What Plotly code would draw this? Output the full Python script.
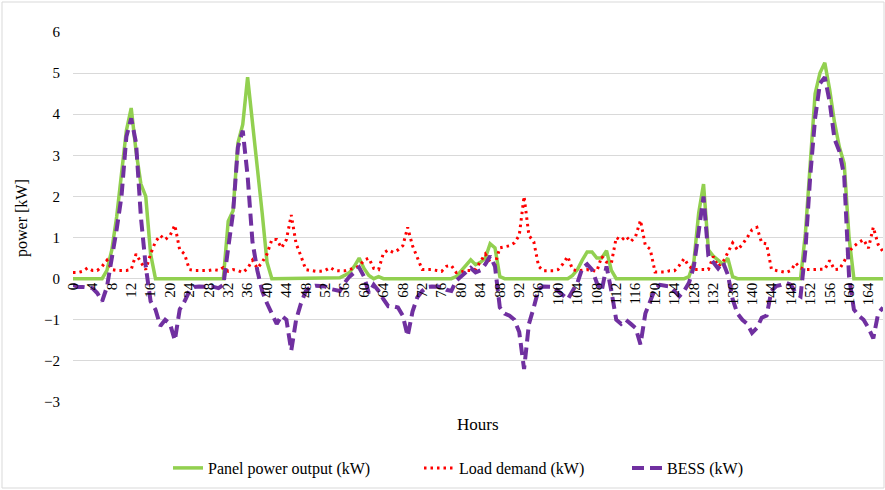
import plotly.graph_objects as go

hours = list(range(168))
tick_hours = list(range(0, 168, 4))
tick_labels = [str(h) for h in tick_hours]
y_ticks = [-3, -2, -1, 0, 1, 2, 3, 4, 5, 6]

panel = [
    0, 0, 0, 0, 0, 0, 0, 0.2, 0.7, 1.5, 2.5, 3.6, 4.15, 3.1, 2.3, 2.0, 0.6, 0, 0, 0, 0, 0, 0, 0,
    0, 0, 0, 0, 0, 0, 0, 0, 1.4, 1.65, 3.3, 3.75, 4.9, 3.7, 2.7, 1.6, 0.4, 0, 0, 0, 0, 0, 0, 0,
    0, 0, 0, 0, 0, 0, 0, 0.02, 0.08, 0.15, 0.3, 0.5, 0.25, 0.08, 0, 0.05, 0, 0, 0, 0, 0, 0, 0, 0,
    0, 0, 0, 0, 0, 0, 0, 0.05, 0.18, 0.3, 0.46, 0.34, 0.4, 0.5, 0.85, 0.75, 0.05, 0, 0, 0, 0, 0, 0, 0,
    0, 0, 0, 0, 0, 0, 0, 0.08, 0.22, 0.45, 0.65, 0.65, 0.5, 0.5, 0.68, 0.2, 0, 0, 0, 0, 0, 0, 0, 0,
    0, 0, 0, 0, 0, 0, 0, 0.05, 0.4, 1.6, 2.3, 0.7, 0.55, 0.45, 0.35, 0.5, 0.05, 0, 0, 0, 0, 0, 0, 0,
    0, 0, 0, 0, 0, 0, 0, 1.1, 2.7, 4.5, 5.0, 5.25, 4.6, 3.8, 3.2, 2.8, 1.0, 0, 0, 0, 0, 0, 0, 0,
]

load = [
    0.15, 0.15, 0.18, 0.26, 0.2, 0.2, 0.3, 0.45, 0.22, 0.2, 0.2, 0.2, 0.22, 0.6, 0.4, 0.22, 0.6, 0.9, 1.05, 0.95, 1.05, 1.3, 0.7, 0.6,
    0.22, 0.2, 0.2, 0.2, 0.2, 0.22, 0.2, 0.27, 0.18, 0.22, 0.2, 0.15, 0.25, 0.45, 0.25, 0.4, 0.6, 0.95, 0.95, 0.75, 0.95, 1.55, 0.85, 0.55,
    0.22, 0.2, 0.18, 0.18, 0.2, 0.27, 0.2, 0.19, 0.19, 0.22, 0.27, 0.3, 0.45, 0.5, 0.25, 0.22, 0.62, 0.7, 0.64, 0.7, 0.8, 1.25, 0.8, 0.5,
    0.22, 0.22, 0.22, 0.2, 0.18, 0.3, 0.32, 0.15, 0.16, 0.2, 0.2, 0.23, 0.42, 0.6, 0.4, 0.35, 0.75, 0.77, 0.8, 0.87, 1.05, 2.0, 1.05, 0.9,
    0.3, 0.19, 0.19, 0.19, 0.22, 0.36, 0.54, 0.22, 0.19, 0.2, 0.22, 0.2, 0.18, 0.54, 0.4, 0.38, 1.0, 0.93, 1.03, 0.9, 1.03, 1.42, 0.81, 0.72,
    0.16, 0.16, 0.16, 0.19, 0.19, 0.32, 0.49, 0.3, 0.22, 0.22, 0.22, 0.22, 0.54, 0.3, 0.4, 0.62, 0.87, 0.7, 0.83, 1.0, 1.19, 1.25, 0.87, 0.85,
    0.23, 0.2, 0.18, 0.15, 0.2, 0.38, 0.26, 0.22, 0.22, 0.22, 0.23, 0.23, 0.44, 0.22, 0.23, 0.42, 0.66, 0.79, 0.88, 0.95, 0.74, 1.25, 0.83, 0.66,
]

bess = [
    -0.15, -0.2, -0.2, -0.22, -0.23, -0.35, -0.55, -0.2, 0.45, 1.2, 2.0, 3.45, 3.9, 3.3, 1.5, 0.3, -0.55, -0.75, -1.15, -1.0, -1.1, -1.5, -0.75, -0.55,
    -0.3, -0.2, -0.19, -0.19, -0.2, -0.2, -0.23, -0.15, 0.75, 1.6, 3.2, 3.6, 2.5, 0.9, 0.2, -0.3, -0.6, -0.85, -1.1, -0.9, -1.0, -1.75, -1.0, -0.6,
    -0.3, -0.2, -0.17, -0.18, -0.19, -0.25, -0.27, -0.3, -0.1, 0.05, 0.15, 0.27, 0.05, -0.35, -0.15, -0.3, -0.5, -0.67, -0.67, -0.7, -0.9, -1.4, -0.8, -0.45,
    -0.3, -0.2, -0.19, -0.19, -0.2, -0.27, -0.3, -0.05, 0.05, 0.15, 0.26, 0.15, 0.2, 0.35, 0.55, 0.3, -0.7, -0.85, -0.9, -1.0, -1.3, -2.2, -1.1, -0.7,
    -0.25, -0.19, -0.19, -0.2, -0.3, -0.4, -0.5, -0.3, -0.1, 0.25, 0.35, 0.22, -0.1, -0.3, 0.3, -0.3, -1.0, -1.1, -1.0, -1.1, -1.2, -1.6, -0.85, -0.55,
    -0.25, -0.15, -0.17, -0.19, -0.3, -0.43, -0.3, -0.1, 0.3, 1.2, 2.0, 0.55, 0.4, 0.25, 0.4, 0.1, -0.5, -0.85, -1.0, -1.1, -1.32, -1.2, -0.95, -0.9,
    -0.3, -0.18, -0.15, -0.1, -0.15, -0.35, -0.43, 0.7, 2.5, 3.9, 4.75, 4.9, 4.3, 3.4, 3.1, 2.5, 0.05, -0.75, -0.9, -1.0, -1.2, -1.45, -0.85, -0.7,
]

assert len(panel) == len(load) == len(bess) == len(hours)

FONT = "Liberation Serif, Times New Roman, serif"

fig = go.Figure()
fig.add_trace(go.Scatter(x=hours, y=panel, mode="lines", name="Panel power output (kW)",
                         line=dict(color="#92D050", width=3.5), legend="legend"))
fig.add_trace(go.Scatter(x=hours, y=load, mode="lines", name="Load demand (kW)",
                         line=dict(color="#FF0000", width=3, dash="2.5px,4px"), legend="legend2"))
fig.add_trace(go.Scatter(x=hours, y=bess, mode="lines", name="BESS (kW)",
                         line=dict(color="#7030A0", width=4, dash="12px,6px"), legend="legend3"))

L, R, T, B = 73, 2, 32, 88
W, H = 885, 490
pw, ph = W - L - R, H - T - B

def px_x(px):
    return (px - L) / pw

def px_y(py):
    return (H - B - py) / ph

def legend_at(px_left):
    return dict(orientation="h", x=px_x(px_left), xanchor="left", y=px_y(468), yanchor="middle",
                font=dict(family=FONT, size=16, color="#000000"), bgcolor="rgba(0,0,0,0)")

fig.update_layout(
    width=W, height=H,
    margin=dict(l=L, r=R, t=T, b=B, autoexpand=False),
    paper_bgcolor="white", plot_bgcolor="white",
    font=dict(family=FONT, size=15, color="#000000"),
    showlegend=True,
    legend=legend_at(168),
    legend2=legend_at(419),
    legend3=legend_at(627),
    xaxis=dict(range=[0, 167], tickmode="array", tickvals=tick_hours, ticktext=tick_labels,
               tickangle=-90, showgrid=False, zeroline=False, showline=False, ticks="",
               anchor="free", position=3 / 9, automargin=False, tickfont=dict(family=FONT, size=15)),
    yaxis=dict(range=[-3, 6], tickmode="array", tickvals=y_ticks, showgrid=True,
               gridcolor="#D9D9D9", gridwidth=1, zeroline=False, showline=False, ticks="",
               automargin=False, ticklabelstandoff=12, tickfont=dict(family=FONT, size=15)),
    annotations=[
        dict(text="Hours", x=px_x(478), y=px_y(424), xref="paper", yref="paper",
             showarrow=False, font=dict(family=FONT, size=17), xanchor="center", yanchor="middle"),
        dict(text="power [kW]", x=px_x(22), y=px_y(218), xref="paper", yref="paper",
             showarrow=False, textangle=-90, font=dict(family=FONT, size=16),
             xanchor="center", yanchor="middle"),
    ],
    shapes=[dict(type="rect", xref="paper", yref="paper", x0=px_x(2), x1=px_x(884),
                 y0=px_y(488), y1=px_y(2), line=dict(color="#D9D9D9", width=1), layer="below")],
)

fig.write_html("out.html", config={"displayModeBar": False},
               post_script="document.body.style.margin='0';document.body.style.overflow='hidden';")
